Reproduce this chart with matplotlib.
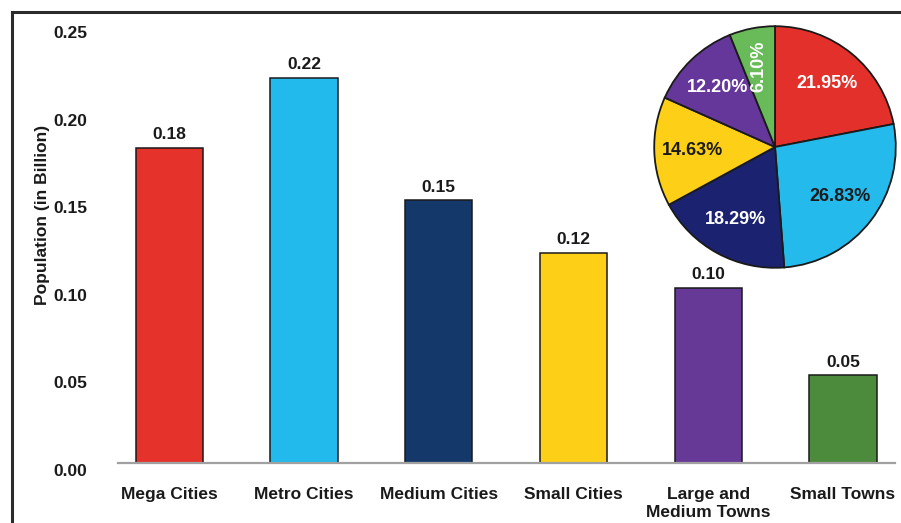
import matplotlib
matplotlib.use("Agg")
import matplotlib.pyplot as plt
import matplotlib.transforms as mtransforms
from matplotlib.lines import Line2D

plt.rcParams['font.family'] = ['Liberation Sans', 'DejaVu Sans']

categories = ["Mega Cities", "Metro Cities", "Medium Cities", "Small Cities",
              "Large and\nMedium Towns", "Small Towns"]
population = [0.18, 0.22, 0.15, 0.12, 0.10, 0.05]
share_pct = [21.95, 26.83, 18.29, 14.63, 12.20, 6.10]
yticks = [0.00, 0.05, 0.10, 0.15, 0.20, 0.25]

bar_colors = ['#E5322A', '#22BAEC', '#15386A', '#FDD017', '#673996', '#4C8A3C']
pie_colors = ['#E3302A', '#25BAEC', '#1B2370', '#FDD017', '#65379A', '#68BB58']
pie_text_colors = ['white', '#1a1a1a', 'white', '#1a1a1a', 'white', 'white']

W, H = 901, 523
fig = plt.figure(figsize=(W / 100, H / 100), dpi=100)
fig.patch.set_facecolor('white')

# main bar axes
ax = fig.add_axes([118 / W, 1 - 463 / H, (895 - 118) / W, (463 - 25) / H])
x = list(range(len(categories)))
bars = ax.bar(x, population, width=0.5, color=bar_colors,
              edgecolor='#1a1a1a', linewidth=1.1, zorder=3)
for rect, v in zip(bars, population):
    ax.annotate(f"{v:.2f}", (rect.get_x() + rect.get_width() / 2, rect.get_height()),
                xytext=(0, 4), textcoords='offset points', ha='center', va='bottom',
                fontsize=12.5, fontweight='bold', color='#1a1a1a')

ax.set_xlim(-0.38, 5.386)
ax.set_ylim(0, 0.25)
ax.set_yticks(yticks)
ax.set_yticklabels([f"{t:.2f}" for t in yticks], fontsize=12.5, fontweight='bold', color='#1a1a1a')
ax.set_xticks(x)
ax.set_xticklabels(categories, fontsize=12.5, fontweight='bold', color='#1a1a1a',
                   linespacing=1.2, va='top')
ax.tick_params(axis='both', length=0)
ax.tick_params(axis='y', pad=22)
ax.tick_params(axis='x', pad=17.5)
off = mtransforms.ScaledTranslation(0, -7 / 100, fig.dpi_scale_trans)
for lab in ax.get_yticklabels():
    lab.set_transform(lab.get_transform() + off)
for s in ['top', 'right', 'left']:
    ax.spines[s].set_visible(False)
ax.spines['bottom'].set_color('#a0a0a0')
ax.spines['bottom'].set_linewidth(1.6)
ax.spines['bottom'].set_zorder(4)

fig.text(43 / W, 1 - 215 / H, "Population (in Billion)", rotation=90,
         ha='center', va='center', fontsize=12.5, fontweight='bold', color='#1a1a1a')

# pie inset
cx, cy, r = 775, 147, 122
pax = fig.add_axes([(cx - r) / W, 1 - (cy + r) / H, 2 * r / W, 2 * r / H])
wedges, texts, autotexts = pax.pie(share_pct, colors=pie_colors, startangle=90,
                                   counterclock=False, autopct='%.2f%%',
                                   pctdistance=0.68,
                                   wedgeprops=dict(edgecolor='#1a1a1a', linewidth=1.3))
for t, c in zip(autotexts, pie_text_colors):
    t.set_color(c)
    t.set_fontsize(13)
    t.set_fontweight('bold')
autotexts[-1].set_rotation(90)
pax.set_xlim(-1.01, 1.01)
pax.set_ylim(-1.01, 1.01)
pax.set_aspect('equal')
pax.axis('off')

# outer frame (cropped at right/bottom)
frame_kw = dict(color='#2b2b2b', linewidth=2.2, transform=fig.transFigure, clip_on=False)
fig.add_artist(Line2D([12 / W, 12 / W], [1 - 12 / H, -0.01], **frame_kw))
fig.add_artist(Line2D([12 / W, 1.01], [1 - 12 / H, 1 - 12 / H], **frame_kw))

fig.savefig("out.png", dpi=100)
